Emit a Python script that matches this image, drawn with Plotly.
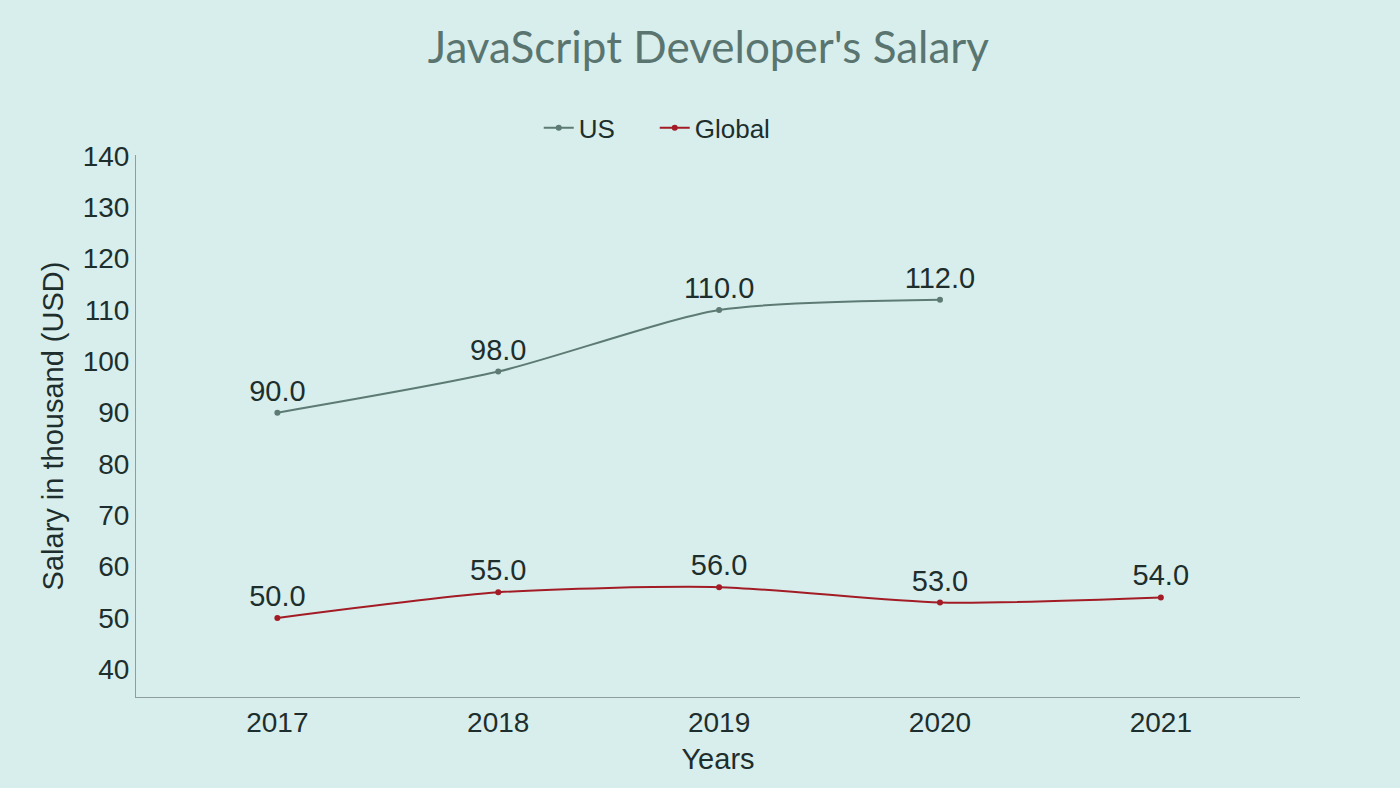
import plotly.graph_objects as go

years = ["2017", "2018", "2019", "2020", "2021"]
us_years = ["2017", "2018", "2019", "2020"]
us_salary = [90, 98, 110, 112]
global_salary = [50, 55, 56, 53, 54]

us_color = "#5d7a73"
global_color = "#a31c25"
bg = "#d7eeed"
text_color = "#1e2e2c"
fam = "Liberation Sans, Arial"

fig = go.Figure()
fig.add_trace(go.Scatter(
    x=us_years, y=us_salary, name="US", mode="lines+markers+text",
    line=dict(color=us_color, width=2, shape="spline", smoothing=0.7),
    marker=dict(size=6, color=us_color),
    texttemplate="%{y:.1f}", textposition="top center",
    textfont=dict(size=29, color=text_color, family=fam),
))
fig.add_trace(go.Scatter(
    x=years, y=global_salary, name="Global", mode="lines+markers+text",
    line=dict(color=global_color, width=2, shape="spline", smoothing=0.7),
    marker=dict(size=6, color=global_color),
    texttemplate="%{y:.1f}", textposition="top center",
    textfont=dict(size=29, color=text_color, family=fam),
))

fig.update_layout(
    width=1400, height=788,
    paper_bgcolor=bg, plot_bgcolor=bg,
    margin=dict(l=136, r=100, t=155, b=91),
    title=dict(text="JavaScript Developer's Salary", x=0.506, xanchor="center",
               y=0.94, yanchor="middle",
               font=dict(family="Lato", size=44, color="#5a7570")),
    font=dict(family=fam, color=text_color),
    legend=dict(orientation="h", x=0.346, xanchor="left", y=1.05, yanchor="middle",
                font=dict(size=26, color=text_color), bgcolor="rgba(0,0,0,0)",
                itemwidth=30, entrywidth=71),
    showlegend=True,
)
fig.update_xaxes(
    type="category", range=[-0.64, 4.63], showgrid=False, zeroline=False,
    showline=True, linecolor="#8e9e9c", linewidth=1, ticks="",
    tickfont=dict(size=28, color=text_color),
    title=dict(text="Years", font=dict(size=29, color=text_color), standoff=12),
)
fig.update_yaxes(
    range=[34.6, 140.2], dtick=10, tick0=40, showgrid=False, zeroline=False,
    showline=True, linecolor="#8e9e9c", linewidth=1, ticks="",
    tickfont=dict(size=28, color=text_color),
    title=dict(text="Salary in thousand (USD)", font=dict(size=29, color=text_color), standoff=10),
)

fig.write_html("out.html")
